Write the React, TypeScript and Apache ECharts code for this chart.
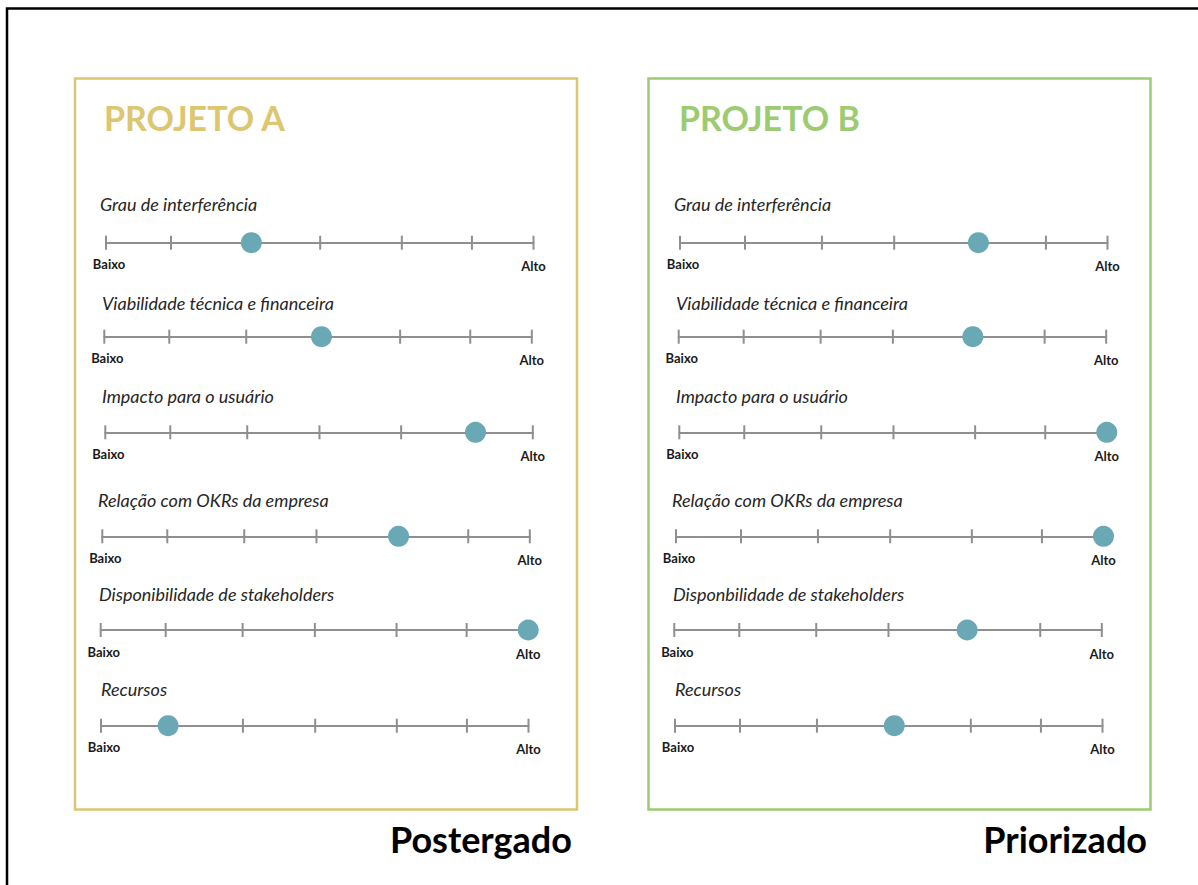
import React, { useEffect, useRef } from "react";
import * as echarts from "echarts";

// ---- data ----
const panelTitles = ["PROJETO A", "PROJETO B"];
const verdicts = ["Postergado", "Priorizado"];
const criteriaA = [
  "Grau de interferência",
  "Viabilidade técnica e financeira",
  "Impacto para o usuário",
  "Relação com OKRs da empresa",
  "Disponibilidade de stakeholders",
  "Recursos",
];
const criteriaB = [
  "Grau de interferência",
  "Viabilidade técnica e financeira",
  "Impacto para o usuário",
  "Relação com OKRs da empresa",
  "Disponbilidade de stakeholders",
  "Recursos",
];
// dot position on the scale (0 = Baixo, 100 = Alto)
const valuesA = [34, 50.8, 86.6, 69.3, 100, 15.7];
const valuesB = [69.8, 68.8, 100, 100, 68.5, 51.3];
// tick marks along every scale
const tickPositions = [0, 15.2, 33.2, 50.1, 69.2, 85.6, 100];
const scaleLabels = ["Baixo", "Alto"];

// ---- layout ----
const rowY = [242.7, 336.7, 432.3, 536.3, 630, 725.7];
const rowLeft = [
  [106, 104.3, 105.3, 102.3, 100.7, 101],
  [680, 678.7, 679.3, 676, 674.3, 675],
];
const labelX = [
  [100, 102, 102, 98, 99, 101],
  [674, 676, 676, 672, 673, 675],
];
const labelY = [204, 303, 396, 500, 593.5, 689];
const scaleWidth = 427.5;
const panelColors = ["#dcc66f", "#9ccb72"];
const panelRects = [
  { x: 75, y: 78.5, w: 502, h: 731 },
  { x: 648.5, y: 78.5, w: 502, h: 731 },
];
const titleX = [104, 679];
const verdictRight = [572, 1147];
const FONT = "Lato, 'Open Sans', sans-serif";

export default function App() {
  const ref = useRef<HTMLDivElement>(null);
  useEffect(() => {
    document.body.style.margin = "0";
    document.body.style.overflow = "hidden";
    const chart = echarts.init(ref.current!, null, { renderer: "svg" });
    const grids: any[] = [];
    const xAxes: any[] = [];
    const yAxes: any[] = [];
    const series: any[] = [];
    const graphics: any[] = [];
    const panels = [
      { crit: criteriaA, vals: valuesA },
      { crit: criteriaB, vals: valuesB },
    ];
    panels.forEach((pd, p) => {
      pd.crit.forEach((_, r) => {
        const idx = grids.length;
        grids.push({ left: rowLeft[p][r], top: rowY[r] - 15, width: scaleWidth, height: 30 });
        xAxes.push({
          gridIndex: idx,
          type: "value",
          min: 0,
          max: 100,
          axisLine: { show: true, onZero: true, lineStyle: { color: "#8f8f8f", width: 2 } },
          axisTick: { show: false },
          splitLine: { show: false },
          axisLabel: {
            show: true,
            customValues: [0, 100],
            margin: 0,
            formatter: (v: number) => (v === 0 ? `{b|${scaleLabels[0]}}` : `{a|${scaleLabels[1]}}`),
            rich: {
              b: { fontFamily: FONT, fontWeight: "bold", fontSize: 13, color: "#1a1a1a", padding: [0, 0, 0, 6] },
              a: { fontFamily: FONT, fontWeight: "bold", fontSize: 13, color: "#1a1a1a", padding: [2, 0, 0, 0] },
            },
          },
        });
        yAxes.push({ gridIndex: idx, type: "value", min: -1, max: 1, show: false });
        series.push({
          type: "scatter",
          xAxisIndex: idx,
          yAxisIndex: idx,
          symbol: "rect",
          symbolSize: [2, 14],
          itemStyle: { color: "#8f8f8f", opacity: 1 },
          data: tickPositions.map((t) => [t, 0]),
          clip: false,
          silent: true,
          z: 2,
        });
        series.push({
          type: "scatter",
          xAxisIndex: idx,
          yAxisIndex: idx,
          symbol: "circle",
          symbolSize: 21,
          itemStyle: { color: "#6aa8b6", opacity: 1 },
          data: [[pd.vals[r], 0]],
          clip: false,
          silent: true,
          z: 3,
        });
        graphics.push({
          type: "text",
          x: labelX[p][r],
          y: labelY[r],
          style: {
            text: pd.crit[r],
            font: `italic 18px ${FONT}`,
            fill: "#262626",
            align: "left",
            verticalAlign: "middle",
          },
        });
      });
      const pr = panelRects[p];
      graphics.push({
        type: "rect",
        shape: { x: pr.x, y: pr.y, width: pr.w, height: pr.h },
        style: { fill: "none", stroke: panelColors[p], lineWidth: 2.5 },
      });
      graphics.push({
        type: "text",
        x: titleX[p],
        y: 117,
        style: {
          text: panelTitles[p],
          font: `bold 34px ${FONT}`,
          fill: panelColors[p],
          align: "left",
          verticalAlign: "middle",
        },
      });
      graphics.push({
        type: "text",
        x: verdictRight[p],
        y: 839,
        style: {
          text: verdicts[p],
          font: `bold 36px ${FONT}`,
          fill: "#000000",
          align: "right",
          verticalAlign: "middle",
        },
      });
    });
    graphics.push({
      type: "polyline",
      shape: { points: [[7, 900], [7, 8.5], [1210, 8.5]] },
      style: { fill: "none", stroke: "#000000", lineWidth: 2.5 },
    });
    chart.setOption({
      animation: false,
      backgroundColor: "#ffffff",
      grid: grids,
      xAxis: xAxes,
      yAxis: yAxes,
      series,
      graphic: graphics,
    });
    return () => chart.dispose();
  }, []);
  return <div ref={ref} style={{ width: 1198, height: 885 }} />;
}
